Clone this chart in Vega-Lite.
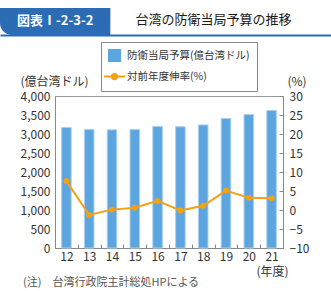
{
  "$schema": "https://vega.github.io/schema/vega-lite/v6.json",
  "padding": {"left": 0, "top": 8, "right": 0, "bottom": 0},
  "background": "white",
  "spacing": 39,
  "config": {
    "font": "Noto Sans CJK JP",
    "axis": {"labelFont": "Noto Sans CJK JP", "titleFont": "Noto Sans CJK JP", "labelColor": "#333333", "titleColor": "#333333", "domainColor": "#888888", "tickColor": "#888888", "grid": false},
    "legend": {"labelFont": "Noto Sans CJK JP"},
    "title": {"font": "Noto Sans CJK JP"}
  },
  "vconcat": [
    {
      "width": 276,
      "height": 27,
      "view": {"stroke": null},
      "data": {"values": [
        {"part": "label", "text": "図表Ⅰ-2-3-2"},
        {"part": "title", "text": "台湾の防衛当局予算の推移"},
        {"part": "rest", "text": ""}
      ]},
      "encoding": {
        "x": {"field": "part", "type": "nominal", "sort": null,
          "scale": {"domain": ["label", "title", "rest"], "range": [-55, 276], "paddingInner": 0, "paddingOuter": 0},
          "axis": {"orient": "bottom", "labels": false, "ticks": false, "title": null, "domainColor": "#2B6CB5", "domainWidth": 2}}
      },
      "layer": [
        {"transform": [{"filter": "datum.part === 'label'"}],
         "mark": {"type": "bar", "color": "#2B6CB5", "cornerRadiusBottomLeft": 12}},
        {"transform": [{"filter": "datum.part === 'label'"}],
         "mark": {"type": "text", "color": "white", "fontSize": 13, "fontWeight": "bold", "dy": -1},
         "encoding": {"text": {"field": "text"}}},
        {"transform": [{"filter": "datum.part === 'title'"}],
         "mark": {"type": "text", "align": "left", "fontSize": 13, "color": "#231815", "dx": -30, "dy": -2},
         "encoding": {"text": {"field": "text"}}}
      ]
    },
    {
      "width": 228,
      "height": 152,
      "view": {"stroke": "#999999"},
      "title": {"text": "(注)　台湾行政院主計総処HPによる", "orient": "bottom", "anchor": "start", "frame": "group", "fontSize": 11, "fontWeight": "normal", "color": "#555555", "dx": -32, "offset": 0},
      "data": {"values": [
        {"year": "12", "budget": 3170, "growth": 7.6},
        {"year": "13", "budget": 3120, "growth": -1.3},
        {"year": "14", "budget": 3110, "growth": 0.1},
        {"year": "15", "budget": 3120, "growth": 0.6},
        {"year": "16", "budget": 3200, "growth": 2.4},
        {"year": "17", "budget": 3190, "growth": -0.1},
        {"year": "18", "budget": 3240, "growth": 1.1},
        {"year": "19", "budget": 3410, "growth": 5.1},
        {"year": "20", "budget": 3510, "growth": 3.2},
        {"year": "21", "budget": 3620, "growth": 3.1}
      ]},
      "encoding": {
        "x": {"field": "year", "type": "ordinal",
          "scale": {"paddingInner": 0, "paddingOuter": 0},
          "axis": {"labelAngle": 0, "tickBand": "extent", "tickSize": -4, "labelPadding": 7, "labelFontSize": 12,
            "title": "(年度)", "titleX": 217, "titleY": 23, "titleAlign": "center", "titleBaseline": "middle", "titleFontSize": 12, "titleFontWeight": "normal"}}
      },
      "layer": [
        {
          "mark": {"type": "bar", "width": {"band": 0.42}, "stroke": "#A9D1F1", "strokeWidth": 1},
          "encoding": {
            "y": {"field": "budget", "type": "quantitative", "scale": {"domain": [0, 4000]},
              "axis": {"orient": "left", "values": [0, 500, 1000, 1500, 2000, 2500, 3000, 3500, 4000], "format": ",.0f", "ticks": false, "labelPadding": 5, "labelFontSize": 12,
                "title": "(億台湾ドル)", "titleAngle": 0, "titleX": -35, "titleY": -15, "titleAlign": "left", "titleBaseline": "middle", "titleFontSize": 12, "titleFontWeight": "normal", "minExtent": 53}},
            "color": {"datum": "防衛当局予算(億台湾ドル)", "type": "nominal",
              "scale": {"domain": ["防衛当局予算(億台湾ドル)", "対前年度伸率(%)"], "range": ["#5DA5DE", "#F4A210"]},
              "legend": {"title": null, "orient": "none", "legendX": 46, "legendY": 34, "strokeColor": "#888888", "padding": 7,
                "labelFontSize": 10.5, "labelColor": "#333333", "symbolSize": 441, "rowPadding": 4, "labelOffset": 6,
                "encode": {"symbols": {"update": {
                  "shape": {"signal": "datum.value === '対前年度伸率(%)' ? 'M-1,0H1M-0.25,0a0.25,0.25 0 1,0 0.5,0a0.25,0.25 0 1,0 -0.5,0' : 'square'"},
                  "size": {"signal": "datum.value === '対前年度伸率(%)' ? 441 : 121"},
                  "fill": {"signal": "datum.value === '対前年度伸率(%)' ? '#F4A210' : '#5DA5DE'"},
                  "stroke": {"signal": "datum.value === '対前年度伸率(%)' ? '#F4A210' : '#5DA5DE'"},
                  "strokeWidth": {"value": 2},
                  "opacity": {"value": 1}
                }}}}}
          }
        },
        {
          "mark": {"type": "line", "strokeWidth": 2, "point": {"filled": true, "size": 36, "opacity": 1}},
          "encoding": {
            "y": {"field": "growth", "type": "quantitative", "scale": {"domain": [-10, 30]},
              "axis": {"orient": "right", "values": [-10, -5, 0, 5, 10, 15, 20, 25, 30], "tickSize": -4, "labelPadding": 10, "labelFontSize": 12,
                "title": "(%)", "titleAngle": 0, "titleX": 4, "titleY": -15, "titleAlign": "left", "titleBaseline": "middle", "titleFontSize": 12, "titleFontWeight": "normal"}},
            "color": {"datum": "対前年度伸率(%)", "type": "nominal",
              "legend": {"title": null, "orient": "none", "legendX": 46, "legendY": 34, "strokeColor": "#888888", "padding": 7,
                "labelFontSize": 10.5, "labelColor": "#333333", "symbolSize": 441, "rowPadding": 4, "labelOffset": 6,
                "encode": {"symbols": {"update": {
                  "shape": {"signal": "datum.value === '対前年度伸率(%)' ? 'M-1,0H1M-0.25,0a0.25,0.25 0 1,0 0.5,0a0.25,0.25 0 1,0 -0.5,0' : 'square'"},
                  "size": {"signal": "datum.value === '対前年度伸率(%)' ? 441 : 121"},
                  "fill": {"signal": "datum.value === '対前年度伸率(%)' ? '#F4A210' : '#5DA5DE'"},
                  "stroke": {"signal": "datum.value === '対前年度伸率(%)' ? '#F4A210' : '#5DA5DE'"},
                  "strokeWidth": {"value": 2},
                  "opacity": {"value": 1}
                }}}}}
          }
        }
      ],
      "resolve": {"scale": {"y": "independent"}}
    }
  ]
}
